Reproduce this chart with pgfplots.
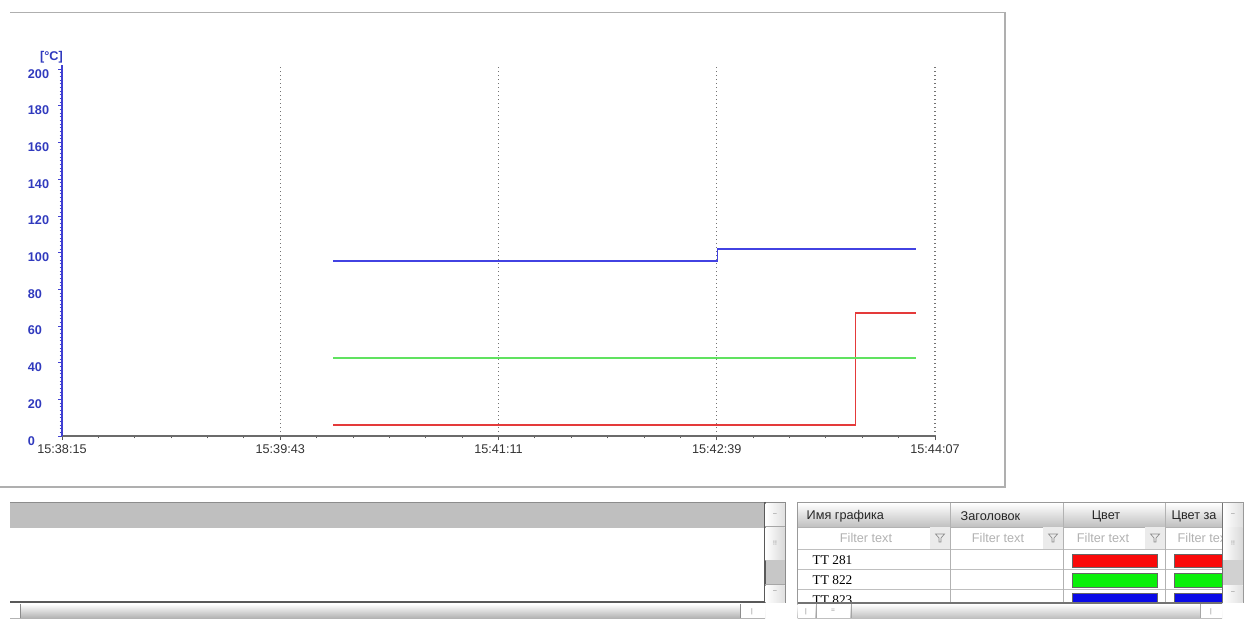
\documentclass[border=0pt]{standalone}
\usepackage{fontspec}
\setmainfont{Liberation Sans}
\newfontfamily\tabserif{Liberation Serif}
\usepackage{pgfplots}
\pgfplotsset{compat=1.18}

\definecolor{axblue}{RGB}{64,64,210}
\definecolor{lblblue}{RGB}{48,58,190}
\definecolor{trblue}{RGB}{66,66,226}
\definecolor{trred}{RGB}{228,58,58}
\definecolor{trgreen}{RGB}{96,226,96}
\definecolor{frame}{RGB}{175,175,175}
\definecolor{swred}{RGB}{250,10,10}
\definecolor{swgreen}{RGB}{10,240,10}
\definecolor{swblue}{RGB}{10,10,230}

\newcommand{\funnel}[2]{%
  \fill[black!8] (#1-10,#2-11) rectangle (#1+10,#2+11);
  \draw[black!45, line width=0.5pt] (#1-4.5,#2-4) -- (#1+4.5,#2-4) -- (#1+1,#2) -- (#1+1,#2+4) -- (#1-1,#2+4) -- (#1-1,#2) -- cycle;}

\begin{document}
\begin{tikzpicture}[x=0.75pt,y=-0.75pt]
\useasboundingbox (0,0) rectangle (1255,618);

% chart panel frame
\draw[frame, line width=1.2pt] (10,12.5) -- (1005,12.5) -- (1005,487) -- (0,487);

\begin{axis}[
    at={(46.5pt,-327pt)}, anchor=south west,
    x=1.8601pt, y=1.376pt,
    xmin=0, xmax=352, ymin=0, ymax=202,
    axis lines=left,
    axis line style={-},
    x axis line style={black!58, line width=1.3pt},
    y axis line style={axblue, line width=1.2pt},
    tick align=outside,
    major tick length=3pt, minor tick length=1.8pt,
    xtick={0,88,176,264,352},
    xticklabels={15:38:15,15:39:43,15:41:11,15:42:39,15:44:07},
    minor x tick num=5,
    ytick={0,20,...,200},
    minor y tick num=9,
    x tick style={black!65, line width=0.7pt},
    y tick style={axblue, line width=0.5pt},
    xmajorgrids,
    major x grid style={black!55, line width=0.8pt, dash pattern=on 0.8pt off 2.2pt},
    /pgf/number format/assume math mode=true,
    xticklabel style={font=\fontsize{9.5}{10}\selectfont, text=black!80},
    yticklabel style={font=\fontsize{9.5}{10}\selectfont\bfseries, text=lblblue,
        text width=19pt, align=left, yshift=-3.5pt},
    clip=false,
]
% TT 281
\addplot[trred, line width=1.1pt, const plot] coordinates {
    (109.3,6.0) (319.9,67.0) (344.3,67.0)
};
% TT 822
\addplot[trgreen, line width=1.1pt, const plot] coordinates {
    (109.3,42.5) (344.3,42.5)
};
% TT 823
\addplot[trblue, line width=1.1pt, const plot] coordinates {
    (109.3,95.4) (264.2,101.9) (344.3,101.9)
};
\end{axis}

\node[anchor=east, inner sep=0pt, font=\fontsize{9.5}{10}\selectfont\bfseries, text=lblblue] at (63,57) {[°C]};

% ---- lower left panel ----
\fill[black!25] (10,503) rectangle (765,528);
\draw[black!45, line width=0.6pt] (10,502.5) -- (785,502.5);
\draw[black!65, line width=1.5pt] (10,602) -- (765,602);
\draw[black!65, line width=1.2pt] (765,502) -- (765,603);
\draw[black!45, line width=0.6pt] (785,502) -- (785,603);
% vertical scrollbar
\shade[left color=white, right color=black!12] (765.5,503) rectangle (784.5,526);
\node[font=\tiny, text=black!50] at (775,515) {--};
\shade[left color=white, right color=black!15] (765.5,527) rectangle (784.5,560);
\node[font=\tiny, text=black!40] at (775,543) {!!};
\fill[black!22] (765.5,560) rectangle (784.5,584);
\shade[left color=white, right color=black!12] (765.5,585) rectangle (784.5,602);
\node[font=\tiny, text=black!50] at (775,592) {--};
\draw[black!35, line width=0.4pt] (765,526.5) -- (785,526.5) (765,584.5) -- (785,584.5);
% horizontal scrollbar
\shade[top color=white, bottom color=black!30] (10,604) rectangle (765,618);
\fill[white] (10,604) rectangle (20,618);
\draw[black!45, line width=0.5pt] (20,604) -- (20,618) (740,604) -- (740,618);
\fill[white] (740.5,604) rectangle (764.5,618);
\node[font=\tiny, text=black!50] at (752,612) {|};

% ---- right table ----
\begin{scope}
\clip (797,502) rectangle (1243,618);
\shade[top color=white, bottom color=black!25] (797,503) rectangle (1222,527);
\fill[white] (797,527) rectangle (1222,603);
\draw[black!25, line width=0.5pt] (797,549) -- (1222,549) (797,569) -- (1222,569) (797,589) -- (1222,589);
\draw[black!30, line width=0.5pt] (797,527) -- (1222,527);
\foreach \cx in {950,1063,1165} \draw[black!30, line width=0.5pt] (\cx,503) -- (\cx,603);
\node[anchor=west, font=\fontsize{9.5}{10}\selectfont, text=black!85] at (802,516) {Имя графика};
\node[anchor=west, font=\fontsize{9.5}{10}\selectfont, text=black!85] at (956,516) {Заголовок};
\node[font=\fontsize{9.5}{10}\selectfont, text=black!85] at (1106,516) {Цвет};
\funnel{940}{538}
\funnel{1053}{538}
\funnel{1155}{538}
\node[font=\fontsize{9.5}{10}\selectfont, text=black!30] at (866,538) {Filter text};
\node[font=\fontsize{9.5}{10}\selectfont, text=black!30] at (998,538) {Filter text};
\node[font=\fontsize{9.5}{10}\selectfont, text=black!30] at (1103,538) {Filter text};
\node[anchor=west, font=\tabserif\fontsize{10}{11}\selectfont] at (808,560) {TT 281};
\node[anchor=west, font=\tabserif\fontsize{10}{11}\selectfont] at (808,580) {TT 822};
\node[anchor=west, font=\tabserif\fontsize{10}{11}\selectfont] at (808,600) {TT 823};
\filldraw[fill=swred, draw=black!60, line width=0.5pt] (1072.5,554) rectangle (1157.5,567.5);
\filldraw[fill=swgreen, draw=black!60, line width=0.5pt] (1072.5,573.5) rectangle (1157.5,587);
\filldraw[fill=swblue, draw=black!60, line width=0.5pt] (1072.5,593) rectangle (1157.5,606);
\end{scope}
\begin{scope}
\clip (1165,503) rectangle (1222,603);
\node[anchor=west, font=\fontsize{9.5}{10}\selectfont, text=black!85] at (1167,516) {Цвет за};
\node[anchor=west, font=\fontsize{9.5}{10}\selectfont, text=black!30] at (1173,538) {Filter text};
\filldraw[fill=swred, draw=black!60, line width=0.5pt] (1174.5,554) rectangle (1240,567.5);
\filldraw[fill=swgreen, draw=black!60, line width=0.5pt] (1174.5,573.5) rectangle (1240,587);
\filldraw[fill=swblue, draw=black!60, line width=0.5pt] (1174.5,593) rectangle (1240,606);
\end{scope}
\draw[black!55, line width=1.5pt] (797,602.5) -- (1222,602.5);
\draw[black!55, line width=1.2pt] (1222.5,502) -- (1222.5,603);
\draw[black!40, line width=0.6pt] (797,502.5) -- (1243,502.5) (797,502) -- (797,618) (1243,502) -- (1243,603);
% right table scrollbars
\shade[left color=white, right color=black!12] (1223,503) rectangle (1242.5,527);
\node[font=\tiny, text=black!50] at (1233,515) {--};
\shade[left color=white, right color=black!15] (1223,527) rectangle (1242.5,560);
\node[font=\tiny, text=black!40] at (1233,543) {!!};
\fill[black!18] (1223,560) rectangle (1242.5,585);
\shade[left color=white, right color=black!12] (1223,585) rectangle (1242.5,602);
\node[font=\tiny, text=black!50] at (1233,593) {--};
\shade[top color=white, bottom color=black!25] (797.5,604) rectangle (1222,618);
\fill[white] (798,604) rectangle (815,618);
\node[font=\tiny, text=black!50] at (806,612) {|};
\fill[white] (817,604) rectangle (850,618);
\draw[black!35, line width=0.4pt] (816,604) -- (816,618) (851,604) -- (851,618) (1200,604) -- (1200,618);
\node[font=\tiny, text=black!40] at (833,611) {=};
\fill[white] (1200.5,604) rectangle (1221.5,618);
\node[font=\tiny, text=black!50] at (1211,612) {|};
\end{tikzpicture}
\end{document}
